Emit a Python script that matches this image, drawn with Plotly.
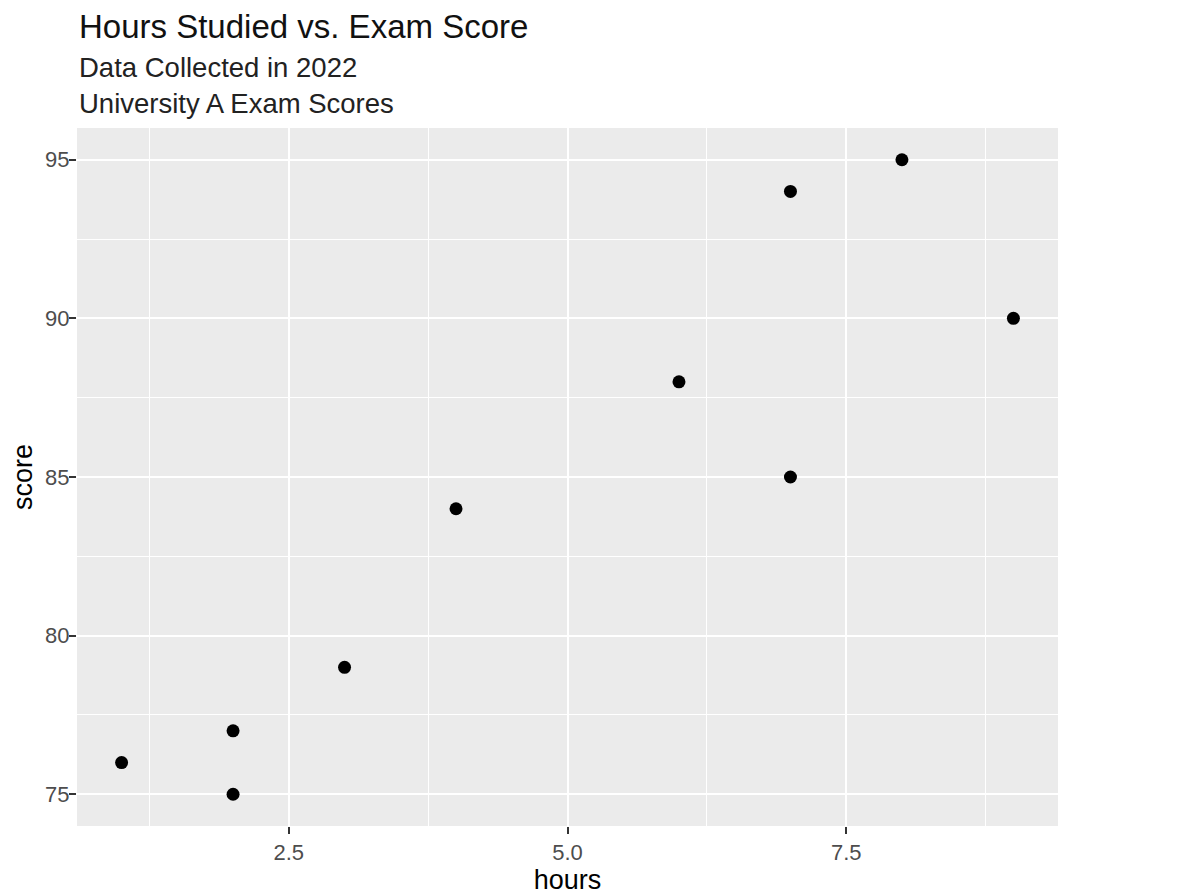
import plotly.graph_objects as go

hours = [1, 2, 2, 3, 4, 6, 7, 7, 8, 9]
score = [76, 77, 75, 79, 84, 88, 94, 85, 95, 90]
x_ticks = [2.5, 5.0, 7.5]
x_tick_labels = ["2.5", "5.0", "7.5"]
x_minor = [1.25, 3.75, 6.25, 8.75]
y_ticks = [75, 80, 85, 90, 95]
y_tick_labels = ["75", "80", "85", "90", "95"]
y_minor = [77.5, 82.5, 87.5, 92.5]

title = "Hours Studied vs. Exam Score"
subtitle_lines = ["Data Collected in 2022", "University A Exam Scores"]

font_family = "Liberation Sans, Arial, sans-serif"

fig = go.Figure()
fig.add_trace(go.Scatter(
    x=hours, y=score, mode="markers",
    marker=dict(color="black", size=13, line=dict(width=0)),
    showlegend=False, hoverinfo="x+y",
))

axis_common = dict(
    showgrid=True, gridcolor="white", gridwidth=2.2,
    zeroline=False, showline=False,
    ticks="outside", ticklen=7, tickwidth=2, tickcolor="#333333",
    tickfont=dict(family=font_family, size=22, color="#4D4D4D"),
)

fig.update_xaxes(
    range=[0.6, 9.4], tickvals=x_ticks, ticktext=x_tick_labels,
    title=dict(text="hours", font=dict(family=font_family, size=27, color="black"), standoff=2),
    minor=dict(showgrid=True, gridcolor="white", gridwidth=1.1, tickvals=x_minor),
    **axis_common,
)
fig.update_yaxes(
    range=[74, 96], tickvals=y_ticks, ticktext=y_tick_labels,
    title=dict(text="score", font=dict(family=font_family, size=27, color="black"), standoff=4),
    minor=dict(showgrid=True, gridcolor="white", gridwidth=1.1, tickvals=y_minor),
    ticklabelstandoff=-5,
    **axis_common,
)

annotations = [
    dict(text=title, x=0, y=1, xref="paper", yref="paper",
         xanchor="left", yanchor="middle", yshift=102, showarrow=False,
         font=dict(family=font_family, size=33, color="#111111")),
    dict(text="<br>".join(subtitle_lines), x=0, y=1, xref="paper", yref="paper",
         xanchor="left", yanchor="middle", yshift=43, showarrow=False, align="left",
         font=dict(family=font_family, size=27.5, color="#222222")),
]

fig.update_layout(
    width=1179, height=895,
    margin=dict(l=69, r=129, t=120, b=77),
    paper_bgcolor="white", plot_bgcolor="#EBEBEB",
    font=dict(family=font_family),
    annotations=annotations,
)

fig.write_html("out.html")
